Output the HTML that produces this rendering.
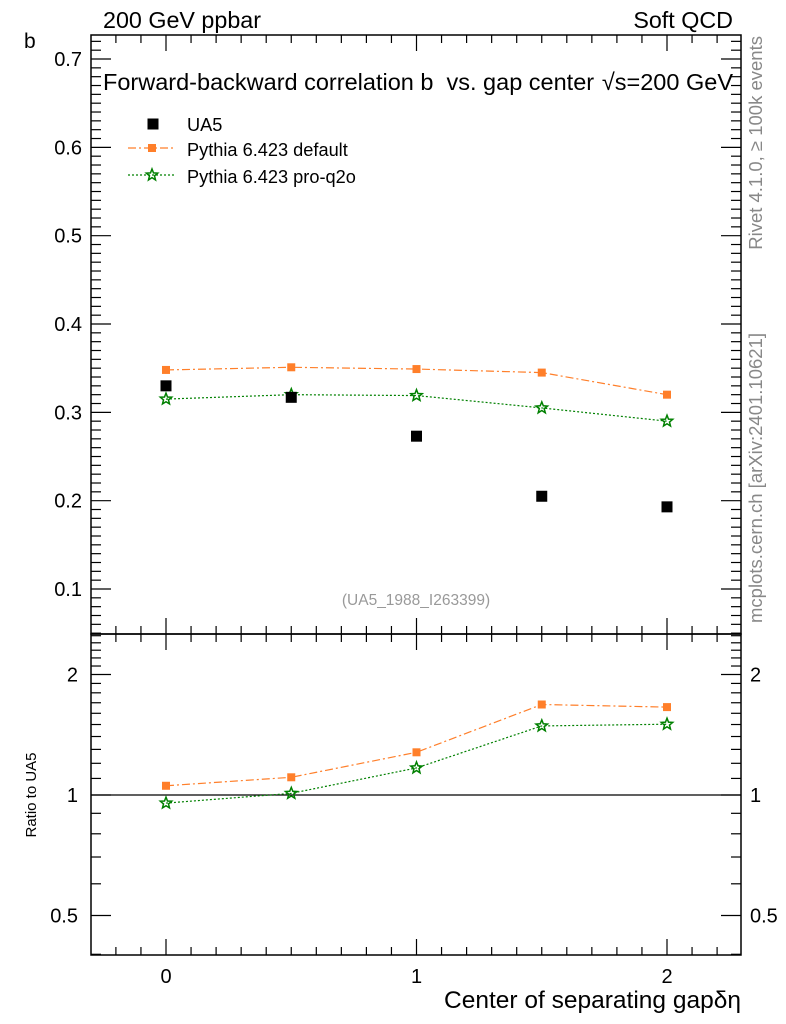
<!DOCTYPE html>
<html><head><meta charset="utf-8"><style>
html,body{margin:0;padding:0;background:#fff}
svg{display:block;font-family:"Liberation Sans",sans-serif}
</style></head><body>
<svg id="chartsvg" width="786" height="1024" xmlns="http://www.w3.org/2000/svg"></svg>
<script>
var xs=[0,0.5,1,1.5,2];
var ua5=[0.330,0.317,0.273,0.205,0.193];
var pyDef=[0.348,0.351,0.349,0.345,0.320];
var pyQ2o=[0.315,0.320,0.319,0.305,0.290];
var yTicks=[0.1,0.2,0.3,0.4,0.5,0.6,0.7];
var rTicks=[0.5,1,2];
var xTicks=[0,1,2];
(function(){
var NS="http://www.w3.org/2000/svg";
var root=document.getElementById('chartsvg');
var PL=91,PR=741,PT=35,PM=634,PB=955;
function sx(v){return 166+v*250.5;}
function sy(v){return 589-(v-0.1)*883.3;}
function ry(v){return 795-(Math.log(v)/Math.LN2)*120.5;}
function mk(t,a){var e=document.createElementNS(NS,t);for(var k in a){e.setAttribute(k,a[k]);}root.appendChild(e);return e;}
function tx(s,a){var e=mk('text',a);e.textContent=s;return e;}
function tick(x1,y1,x2,y2){mk('line',{x1:x1,y1:y1,x2:x2,y2:y2,stroke:'#000','stroke-width':1.2});}
var f=mk('rect',{x:PL,y:PT,width:PR-PL,height:PM-PT,fill:'none',stroke:'#000','stroke-width':1.5});


f=mk('rect',{x:PL,y:PM,width:PR-PL,height:PB-PM,fill:'none',stroke:'#000','stroke-width':1.5});


var i,v,x,y,len,t;
for(i=-2;i<=22;i++){v=i/10;x=sx(v);if(x<PL||x>PR)continue;len=(i%10===0)?16:8;
 tick(x,PT,x,PT+len);tick(x,PM,x,PM-len);tick(x,PM,x,PM+len);tick(x,PB,x,PB-len);}
for(i=0;i<xTicks.length;i++){t=tx(String(xTicks[i]),{x:sx(xTicks[i]),y:983,'font-size':20,'text-anchor':'middle'});

}
for(i=5;i<=72;i++){v=i/100;y=sy(v);if(y<PT||y>PM)continue;len=(i%10===0)?20:10;
 tick(PL,y,PL+len,y);tick(PR,y,PR-len,y);}
for(i=0;i<yTicks.length;i++){t=tx(yTicks[i].toFixed(1),{x:82,y:sy(yTicks[i])+7,'font-size':20,'text-anchor':'end'});

}
for(i=4;i<=25;i++){v=i/10;y=ry(v);if(y<PM||y>PB)continue;len=(i===5||i===10||i===20)?20:10;
 tick(PL,y,PL+len,y);tick(PR,y,PR-len,y);}
for(i=0;i<rTicks.length;i++){var s=String(rTicks[i]);
 t=tx(s,{x:78,y:ry(rTicks[i])+7,'font-size':20,'text-anchor':'end'});
 
 
 t=tx(s,{x:750,y:ry(rTicks[i])+7,'font-size':20});
 
 }
tick(PL,ry(1),PR,ry(1));
function sq(cx,cy,sz,col,nm){var r=mk('rect',{x:cx-sz/2,y:cy-sz/2,width:sz,height:sz,fill:col});

}
function star(cx,cy,nm){var p='';for(var j=0;j<10;j++){var a=-Math.PI/2+j*Math.PI/5;var rr=(j%2)?2.6:6;p+=(cx+rr*Math.cos(a)).toFixed(1)+','+(cy+rr*Math.sin(a)).toFixed(1)+' ';}
 var e=mk('polygon',{points:p,fill:'none',stroke:'#008000','stroke-width':1.5});
 
 }
function pl(vals,yf,col,dash,nm){var pts=[];for(var j=0;j<xs.length;j++){pts.push(sx(xs[j])+','+yf(vals[j]));}
 var e=mk('polyline',{points:pts.join(' '),fill:'none',stroke:col,'stroke-width':1.2,'stroke-dasharray':dash});
 
 }
pl(pyDef,sy,'#ff7f2a','8,3,2,3','default-line');
pl(pyQ2o,sy,'#008000','2,2','pro-q2o-line');
for(i=0;i<xs.length;i++){sq(sx(xs[i]),sy(pyDef[i]),8,'#ff7f2a','default-point');star(sx(xs[i]),sy(pyQ2o[i]),'pro-q2o-point');sq(sx(xs[i]),sy(ua5[i]),11,'#000','ua5-point');}
var rDef=[],rQ=[];
for(i=0;i<xs.length;i++){rDef.push(pyDef[i]/ua5[i]);rQ.push(pyQ2o[i]/ua5[i]);}
pl(rDef,ry,'#ff7f2a','8,3,2,3','default-ratio-line');
pl(rQ,ry,'#008000','2,2','pro-q2o-ratio-line');
for(i=0;i<xs.length;i++){sq(sx(xs[i]),ry(rDef[i]),8,'#ff7f2a','default-ratio-point');star(sx(xs[i]),ry(rQ[i]),'pro-q2o-ratio-point');}
sq(153,124,11,'#000','legend-ua5-marker');
mk('line',{x1:128,x2:176,y1:148,y2:148,stroke:'#ff7f2a','stroke-width':1.2,'stroke-dasharray':'8,3,2,3'});
sq(152,148,8,'#ff7f2a','legend-default-marker');
mk('line',{x1:128,x2:176,y1:175,y2:175,stroke:'#008000','stroke-width':1.2,'stroke-dasharray':'2,2'});
star(152,175,'legend-pro-q2o-marker');
var texts=[['UA5',{x:187,y:131,'font-size':18.2},'legend-ua5'],
['Pythia 6.423 default',{x:187,y:156,'font-size':18.2},'legend-default'],
['Pythia 6.423 pro-q2o',{x:187,y:183,'font-size':18.2},'legend-pro-q2o'],
['200 GeV ppbar',{x:103,y:28,'font-size':23.3},'header-left'],
['Soft QCD',{x:733,y:28,'font-size':23.3,'text-anchor':'end'},'header-right'],
['b',{x:24,y:48,'font-size':21},'y-axis-title'],
['Forward-backward correlation b\u00a0\u00a0vs. gap center',{x:103,y:90,'font-size':23.5},'plot-title'],
['\u221As=200 GeV',{x:733,y:90,'font-size':23.5,'text-anchor':'end'},'energy-label'],
['(UA5_1988_I263399)',{x:416,y:605,'font-size':15.5,fill:'#999','text-anchor':'middle'},'analysis-id'],
['Ratio to UA5',{x:36,y:795,'font-size':15,'transform':'rotate(-90 36 795)','text-anchor':'middle'},'ratio-axis-title'],
['Center of separating gap\u03b4\u03b7',{x:741,y:1008,'font-size':24.5,'text-anchor':'end'},'x-axis-title'],
['Rivet 4.1.0, \u2265 100k events',{x:762,y:36,'font-size':18.5,fill:'#888','transform':'rotate(-90 762 36)','text-anchor':'end'},'rivet-label'],
['mcplots.cern.ch [arXiv:2401.10621]',{x:762,y:333,'font-size':18.5,fill:'#888','transform':'rotate(-90 762 333)','text-anchor':'end'},'mcplots-label']];
for(i=0;i<texts.length;i++){t=tx(texts[i][0],texts[i][1]);

}
})();
</script>
</body></html>
